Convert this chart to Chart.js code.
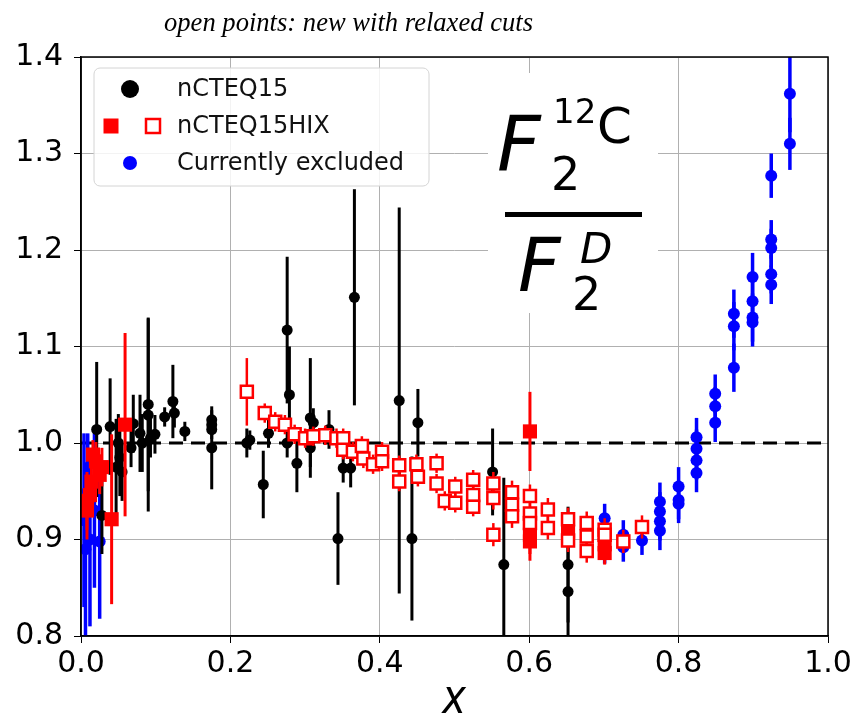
<!DOCTYPE html>
<html>
<head>
<meta charset="utf-8">
<script src="https://cdn.jsdelivr.net/npm/chart.js@4.4.1/dist/chart.umd.min.js"></script>
<style>
  body { margin: 0; background: #fff; }
  canvas { display: block; }
</style>
</head>
<body>
<canvas id="myChart" width="863" height="724"></canvas>
<script>
// nCTEQ15 (black dots)
const blackX = [0.021, 0.028, 0.039, 0.047, 0.050, 0.052, 0.055, 0.067, 0.070, 0.079, 0.082, 0.090, 0.090, 0.093, 0.099,
  0.112, 0.123, 0.125, 0.139, 0.175, 0.175, 0.175, 0.175, 0.222, 0.226, 0.244, 0.251, 0.276, 0.279, 0.276, 0.289,
  0.307, 0.311, 0.307, 0.332, 0.344, 0.351, 0.361, 0.366, 0.426, 0.443, 0.451, 0.551, 0.566, 0.652, 0.652];
const blackY = [1.014, 0.925, 1.017, 0.975, 1.000, 0.985, 0.970, 0.995, 1.020, 1.010, 1.000, 1.040, 1.029, 1.005, 1.009,
  1.027, 1.043, 1.031, 1.012, 1.024, 1.019, 1.014, 0.995, 1.000, 1.003, 0.957, 1.010, 1.117, 1.050, 1.000, 0.979,
  1.026, 1.021, 0.995, 1.014, 0.901, 0.974, 0.974, 1.151, 1.044, 0.901, 1.021, 0.970, 0.874, 0.874, 0.846];
const blackErr = [0.070, 0.040, 0.050, 0.050, 0.030, 0.040, 0.030, 0.020, 0.030, 0.040, 0.030, 0.090, 0.100, 0.020, 0.020,
  0.010, 0.038, 0.015, 0.010, 0.010, 0.010, 0.010, 0.043, 0.015, 0.010, 0.035, 0.015, 0.076, 0.050, 0.015, 0.030,
  0.062, 0.015, 0.020, 0.020, 0.048, 0.015, 0.020, 0.112, 0.200, 0.085, 0.035, 0.045, 0.090, 0.060, 0.060];

// nCTEQ15HIX (filled red squares)
const redX = [0.008, 0.008, 0.012, 0.014, 0.016, 0.020, 0.025, 0.028, 0.041, 0.059, 0.601, 0.601, 0.601, 0.652, 0.701, 0.701];
const redY = [0.930, 0.940, 0.946, 0.960, 0.988, 0.981, 0.967, 0.975, 0.921, 1.019, 1.012, 0.898, 0.905, 0.908, 0.886, 0.895];
const redErr = [0.030, 0.030, 0.020, 0.020, 0.015, 0.020, 0.020, 0.020, 0.088, 0.095, 0.041, 0.020, 0.020, 0.015, 0.012, 0.012];

// new with relaxed cuts (open red squares)
const openX = [0.222, 0.246, 0.260, 0.273, 0.286, 0.300, 0.311, 0.327, 0.342, 0.351, 0.351, 0.364, 0.376, 0.378, 0.391,
  0.403, 0.403, 0.426, 0.426, 0.449, 0.451, 0.476, 0.476, 0.487, 0.501, 0.501, 0.525, 0.525, 0.525, 0.552, 0.552,
  0.552, 0.577, 0.577, 0.577, 0.601, 0.601, 0.601, 0.625, 0.625, 0.652, 0.652, 0.677, 0.677, 0.677, 0.701, 0.701,
  0.726, 0.751];
const openY = [1.053, 1.031, 1.022, 1.019, 1.009, 1.005, 1.007, 1.008, 1.005, 1.005, 0.993, 0.991, 0.997, 0.984, 0.978,
  0.991, 0.981, 0.977, 0.960, 0.978, 0.965, 0.979, 0.958, 0.940, 0.955, 0.938, 0.962, 0.946, 0.934, 0.958, 0.943,
  0.905, 0.949, 0.936, 0.924, 0.945, 0.927, 0.917, 0.931, 0.912, 0.921, 0.899, 0.917, 0.903, 0.888, 0.910, 0.905,
  0.898, 0.913];
const openErr = [0.035, 0.010, 0.010, 0.010, 0.010, 0.010, 0.010, 0.010, 0.010, 0.010, 0.010, 0.010, 0.010, 0.010, 0.010,
  0.010, 0.010, 0.010, 0.010, 0.010, 0.010, 0.010, 0.010, 0.010, 0.010, 0.010, 0.010, 0.010, 0.010, 0.012, 0.012,
  0.012, 0.012, 0.012, 0.012, 0.012, 0.012, 0.012, 0.012, 0.012, 0.012, 0.012, 0.012, 0.012, 0.012, 0.012, 0.012,
  0.012, 0.012];

// currently excluded (blue dots)
const blueX = [0.004, 0.006, 0.009, 0.012, 0.018, 0.025, 0.701, 0.701, 0.726, 0.726, 0.751, 0.775, 0.775, 0.775, 0.775,
  0.800, 0.800, 0.800, 0.824, 0.824, 0.824, 0.824, 0.849, 0.849, 0.849, 0.874, 0.874, 0.874, 0.899, 0.899, 0.899,
  0.899, 0.924, 0.924, 0.924, 0.924, 0.924, 0.949, 0.949];
const blueY = [0.920, 0.890, 0.950, 0.900, 0.930, 0.898, 0.922, 0.890, 0.905, 0.892, 0.899, 0.939, 0.929, 0.919, 0.909,
  0.955, 0.941, 0.937, 1.006, 0.994, 0.982, 0.969, 1.051, 1.038, 1.021, 1.134, 1.121, 1.078, 1.172, 1.147, 1.130,
  1.125, 1.277, 1.211, 1.202, 1.175, 1.164, 1.362, 1.310];
const blueErr = [0.090, 0.090, 0.060, 0.090, 0.080, 0.080, 0.015, 0.015, 0.015, 0.015, 0.015, 0.020, 0.020, 0.020, 0.020,
  0.020, 0.020, 0.020, 0.020, 0.020, 0.020, 0.020, 0.020, 0.020, 0.020, 0.025, 0.025, 0.025, 0.025, 0.025, 0.025,
  0.025, 0.023, 0.020, 0.020, 0.020, 0.020, 0.040, 0.027];

const xTicks = [0.0, 0.2, 0.4, 0.6, 0.8, 1.0];
const yTicks = [0.8, 0.9, 1.0, 1.1, 1.2, 1.3, 1.4];

const toPoints = (xs, ys) => xs.map((x, i) => ({ x: x, y: ys[i] }));

// vertical error bars, drawn just before each dataset
const errorBars = {
  id: 'errorBars',
  beforeDatasetDraw(chart, args) {
    const ds = chart.data.datasets[args.index];
    if (!ds.errors) return;
    const { ctx, chartArea: a, scales: { x, y } } = chart;
    ctx.save();
    ctx.beginPath();
    ctx.rect(a.left, a.top, a.right - a.left, a.bottom - a.top);
    ctx.clip();
    ctx.strokeStyle = ds.barColor;
    ctx.lineWidth = ds.barWidth;
    ds.data.forEach((p, i) => {
      const px = x.getPixelForValue(p.x);
      ctx.beginPath();
      ctx.moveTo(px, y.getPixelForValue(p.y - ds.errors[i]));
      ctx.lineTo(px, y.getPixelForValue(p.y + ds.errors[i]));
      ctx.stroke();
    });
    ctx.restore();
  }
};

const font = (size, italic, family) => (italic ? 'italic ' : '') + size + 'px ' + (family || '"DejaVu Sans"');

const decorations = {
  id: 'decorations',
  afterDraw(chart) {
    const { ctx, chartArea: a } = chart;
    ctx.save();

    // ratio label box
    ctx.fillStyle = '#fff';
    ctx.fillRect(488, 73, 170, 240);
    ctx.fillStyle = '#000';
    ctx.textBaseline = 'alphabetic';
    ctx.textAlign = 'left';
    ctx.font = font(76, true); ctx.fillText('F', 497, 171);
    ctx.font = font(46, false); ctx.fillText('2', 551, 190);
    ctx.font = font(34, false); ctx.fillText('12', 553, 123);
    ctx.font = font(50, false); ctx.fillText('C', 597, 143);
    ctx.fillRect(505, 212, 137, 5);
    ctx.font = font(74, true); ctx.fillText('F', 518, 291);
    ctx.font = font(42, true); ctx.fillText('D', 580, 263);
    ctx.font = font(46, false); ctx.fillText('2', 572, 310);

    // legend
    ctx.beginPath();
    ctx.roundRect(94, 68, 335, 118, 6);
    ctx.fillStyle = 'rgba(255,255,255,0.85)';
    ctx.fill();
    ctx.strokeStyle = '#d4d4d4';
    ctx.lineWidth = 1;
    ctx.stroke();

    ctx.fillStyle = '#000';
    ctx.beginPath(); ctx.arc(130, 89, 9, 0, Math.PI * 2); ctx.fill();
    ctx.fillStyle = 'red';
    ctx.fillRect(103.5, 118.5, 15, 15);
    ctx.fillStyle = '#fff';
    ctx.fillRect(146, 119, 14, 14);
    ctx.strokeStyle = 'red';
    ctx.lineWidth = 2.5;
    ctx.strokeRect(146, 119, 14, 14);
    ctx.fillStyle = 'blue';
    ctx.beginPath(); ctx.arc(130, 163, 7, 0, Math.PI * 2); ctx.fill();

    ctx.fillStyle = '#111';
    ctx.font = font(24, false);
    ctx.textBaseline = 'middle';
    ctx.fillText('nCTEQ15', 177, 90);
    ctx.fillText('nCTEQ15HIX', 177, 127);
    ctx.fillText('Currently excluded', 177, 164);

    // title
    ctx.textBaseline = 'alphabetic';
    ctx.font = font(27, true, '"Liberation Serif"');
    const w = ctx.measureText('open points: new with relaxed cuts').width;
    ctx.save();
    ctx.translate(164, 31);
    ctx.scale(369 / w, 1);
    ctx.fillStyle = '#000';
    ctx.fillText('open points: new with relaxed cuts', 0, 0);
    ctx.restore();

    // x axis title
    ctx.save();
    ctx.translate(454, 713);
    ctx.scale(1, 1.2);
    ctx.textAlign = 'center';
    ctx.fillStyle = '#000';
    ctx.font = font(40, true);
    ctx.fillText('x', 0, 0);
    ctx.restore();

    // frame
    ctx.strokeStyle = '#000';
    ctx.lineWidth = 1.5;
    ctx.strokeRect(a.left, a.top, a.right - a.left, a.bottom - a.top);
    ctx.restore();
  }
};

Chart.defaults.font.family = '"DejaVu Sans"';
Chart.defaults.color = '#000';

let ctx = document.getElementById('myChart');

const config = {
  type: 'scatter',
  data: {
    datasets: [
      {
        label: 'new with relaxed cuts',
        data: toPoints(openX, openY),
        errors: openErr, barColor: 'red', barWidth: 2.5,
        pointStyle: 'rect', pointRadius: 8.5, borderWidth: 2.5,
        borderColor: 'red', backgroundColor: '#fff',
        order: 1
      },
      {
        label: 'nCTEQ15HIX',
        data: toPoints(redX, redY),
        errors: redErr, barColor: 'red', barWidth: 3,
        pointStyle: 'rect', pointRadius: 10, borderWidth: 0,
        backgroundColor: 'red',
        order: 2
      },
      {
        label: 'nCTEQ15',
        data: toPoints(blackX, blackY),
        errors: blackErr, barColor: '#000', barWidth: 3,
        pointStyle: 'circle', pointRadius: 5.5, borderWidth: 0,
        backgroundColor: '#000',
        order: 3
      },
      {
        label: 'Currently excluded',
        data: toPoints(blueX, blueY),
        errors: blueErr, barColor: 'blue', barWidth: 3.5,
        pointStyle: 'circle', pointRadius: 6, borderWidth: 0,
        backgroundColor: 'blue',
        order: 4
      },
      {
        type: 'line',
        label: 'unity',
        data: [{ x: 0, y: 1 }, { x: 1, y: 1 }],
        borderColor: '#000', borderWidth: 3, borderDash: [14, 8],
        pointRadius: 0, fill: false,
        order: 5
      }
    ]
  },
  options: {
    responsive: false,
    animation: false,
    devicePixelRatio: 1,
    events: [],
    layout: { padding: { top: 57, right: 35, left: 0, bottom: 0 } },
    plugins: { legend: { display: false }, tooltip: { enabled: false } },
    scales: {
      x: {
        type: 'linear', min: 0, max: 1,
        afterFit: (s) => { s.height = 88; },
        afterBuildTicks: (s) => { s.ticks = xTicks.map(v => ({ value: v })); },
        ticks: { font: { size: 30 }, padding: 3, callback: v => v.toFixed(1), maxRotation: 0 },
        grid: { color: '#b0b0b0', lineWidth: 1, tickLength: 7, tickColor: '#000' },
        border: { color: '#000', width: 1.5 }
      },
      y: {
        type: 'linear', min: 0.8, max: 1.4,
        afterFit: (s) => { s.width = 81; },
        afterBuildTicks: (s) => { s.ticks = yTicks.map(v => ({ value: v })); },
        ticks: { font: { size: 30 }, padding: 11, callback: v => v.toFixed(1) },
        grid: { color: '#b0b0b0', lineWidth: 1, tickLength: 7, tickColor: '#000' },
        border: { color: '#000', width: 1.5 }
      }
    }
  },
  plugins: [errorBars, decorations]
};

let myChart = new Chart(ctx, config);
</script>
</body>
</html>
